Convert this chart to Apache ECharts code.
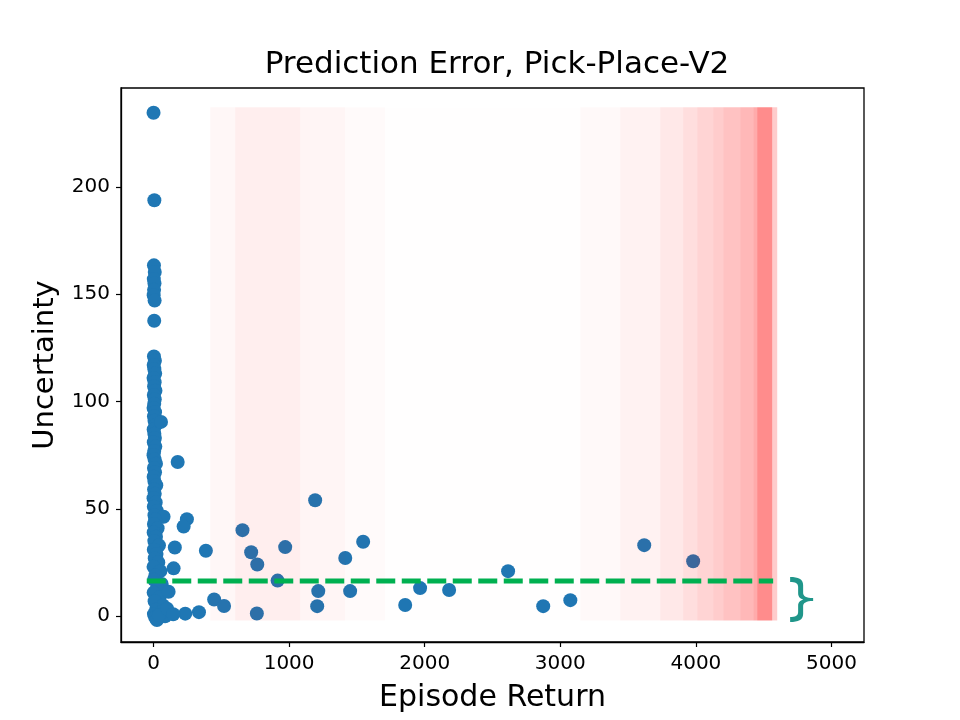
<!DOCTYPE html>
<html>
<head>
<meta charset="utf-8">
<script src="https://cdn.jsdelivr.net/npm/echarts@6/dist/echarts.min.js"></script>
<style>html,body{margin:0;padding:0;background:#fff}#c{width:960px;height:720px}</style>
</head>
<body>
<div id="c"></div>
<script>
// ---- data ----
var titleText = 'Prediction Error, Pick-Place-V2';
var xLabel = 'Episode Return';
var yLabel = 'Uncertainty';
var xTicks = [0, 1000, 2000, 3000, 4000, 5000];
var yTicks = [0, 50, 100, 150, 200];
var xRange = [-240, 5240];
var yRange = [-12, 246];

var episodeReturn = [
  0,6,3,9,2,7,4,1,8,5,
  3,10,1,6,12,0,8,4,14,2,9,5,0,11,3,7,15,1,6,10,2,13,5,0,8,18,3,11,1,6,20,4,9,0,16,2,25,7,74,12,3,30,1,18,6,40,2,22,9,35,0,50,14,4,60,27,1,45,8,70,19,55,3,85,12,25,40,100,
  55,178,246,222,157,386,148,111,447,520,335,234,145,762,656,720,765,915,971,1192,1207,1215,1414,1450,1546,1856,1966,2180,2615,2874,3074,3619,3980
];
var uncertainty = [
  234.5,193.7,163.4,160.3,157,155,152,149.5,147,137.6,
  121,119,117,115,113,111,109,107,105,103,101,99,97,95,93,91,89,87,85,83,81,79,77,75,73,71,69,67,65,63,61,59,57,55,53,51,49,47,46.3,45,43,41,39,37,35,33,31,29,27,25,23,21,19,17,15,13,11,9,7,5,3,2,1,0,-0.5,-1.8,0.5,3.5,
  90.5,71.8,45.2,41.8,32,30.5,22.3,11.4,7.8,4.8,1.9,1.2,0.9,1.3,40.1,29.8,24.1,16.6,32.2,54,4.7,11.7,27.1,11.7,34.7,5.2,13.1,12.2,21,4.7,7.5,33.1,25.6
];

// red shaded band: stripe edges (episode return) and red opacity of each stripe
var bandEdges = [418, 602, 1082, 1413, 1709, 3147, 3442, 3737, 3906, 4010, 4128, 4202, 4327, 4423, 4452, 4563, 4600];
var bandAlpha = [0.03, 0.065, 0.04, 0.018, 0.003, 0.022, 0.05, 0.09, 0.13, 0.17, 0.2, 0.24, 0.28, 0.33, 0.45, 0.2];
var bandY = [-2, 237];

// green dashed threshold line
var thresholdX = [-50, 4570];
var thresholdY = 16.4;

// brace annotation
var bracePos = [4780, 7.8];

// ---- build ----
var points = episodeReturn.map(function (x, i) { return [x, uncertainty[i]]; });
var bandData = [];
for (var i = 0; i < bandAlpha.length; i++) bandData.push([bandEdges[i], bandEdges[i + 1], bandAlpha[i]]);

var bracePath = 'path://M0,0 C8,0 13,2 13,8 L13,16 C13,19 16,21 23,21 L23,24 C16,24 13,26 13,29 L13,37 C13,43 8,45 0,45 L0,40 C5,40 8,39 8,35 L8,29 C8,25 10,23.5 13,22.5 C10,21.5 8,20 8,16 L8,10 C8,6 5,5 0,5 Z';

var chart = echarts.init(document.getElementById('c'), null, {renderer: 'canvas'});
var FONT = 'DejaVu Sans';
chart.setOption({
  animation: false,
  backgroundColor: '#fff',
  textStyle: {fontFamily: FONT},
  title: {
    text: titleText, left: 492, top: 44, textAlign: 'center',
    textStyle: {fontFamily: FONT, fontSize: 31, fontWeight: 'normal', color: '#000'}
  },
  grid: {left: 121, right: 96, top: 88, bottom: 78, show: true, borderColor: '#000', borderWidth: 1.3, backgroundColor: 'transparent'},
  xAxis: {
    type: 'value', min: xRange[0], max: xRange[1],
    name: xLabel, nameLocation: 'middle', nameGap: 41,
    nameTextStyle: {fontFamily: FONT, fontSize: 30, color: '#000'},
    axisLine: {show: true, onZero: false, lineStyle: {color: '#000', width: 1.3}},
    axisTick: {show: true, length: 5, lineStyle: {color: '#000', width: 1.2}, customValues: xTicks},
    axisLabel: {fontFamily: FONT, fontSize: 20, color: '#000', margin: 12, customValues: xTicks,
      formatter: function (v) { return String(v); }},
    splitLine: {show: false}
  },
  yAxis: {
    type: 'value', min: yRange[0], max: yRange[1],
    name: yLabel, nameLocation: 'middle', nameGap: 61, nameRotate: 90,
    nameTextStyle: {fontFamily: FONT, fontSize: 29, color: '#000'},
    axisLine: {show: true, onZero: false, lineStyle: {color: '#000', width: 1.3}},
    axisTick: {show: true, length: 5, lineStyle: {color: '#000', width: 1.2}, customValues: yTicks},
    axisLabel: {fontFamily: FONT, fontSize: 20, color: '#000', margin: 11, customValues: yTicks,
      formatter: function (v) { return String(v); }},
    splitLine: {show: false}
  },
  series: [
    {
      type: 'scatter', z: 2, data: points, symbolSize: 14,
      itemStyle: {color: '#1f77b4', opacity: 1}
    },
    {
      type: 'custom', z: 3, data: bandData,
      renderItem: function (params, api) {
        var p0 = api.coord([api.value(0), bandY[1]]);
        var p1 = api.coord([api.value(1), bandY[0]]);
        return {
          type: 'rect',
          shape: {x: p0[0], y: p0[1], width: p1[0] - p0[0], height: p1[1] - p0[1]},
          style: {fill: 'rgba(255,0,0,' + api.value(2) + ')'}
        };
      }
    },
    {
      type: 'line', z: 4, symbol: 'none', silent: true,
      data: [[thresholdX[0], thresholdY], [thresholdX[1], thresholdY]],
      lineStyle: {color: '#00b050', width: 5, type: [19, 6.5]}
    },
    {
      type: 'scatter', z: 5, silent: true,
      data: [bracePos],
      symbol: bracePath, symbolSize: [23, 45],
      itemStyle: {color: '#20968a', opacity: 1}
    }
  ]
});
</script>
</body>
</html>
